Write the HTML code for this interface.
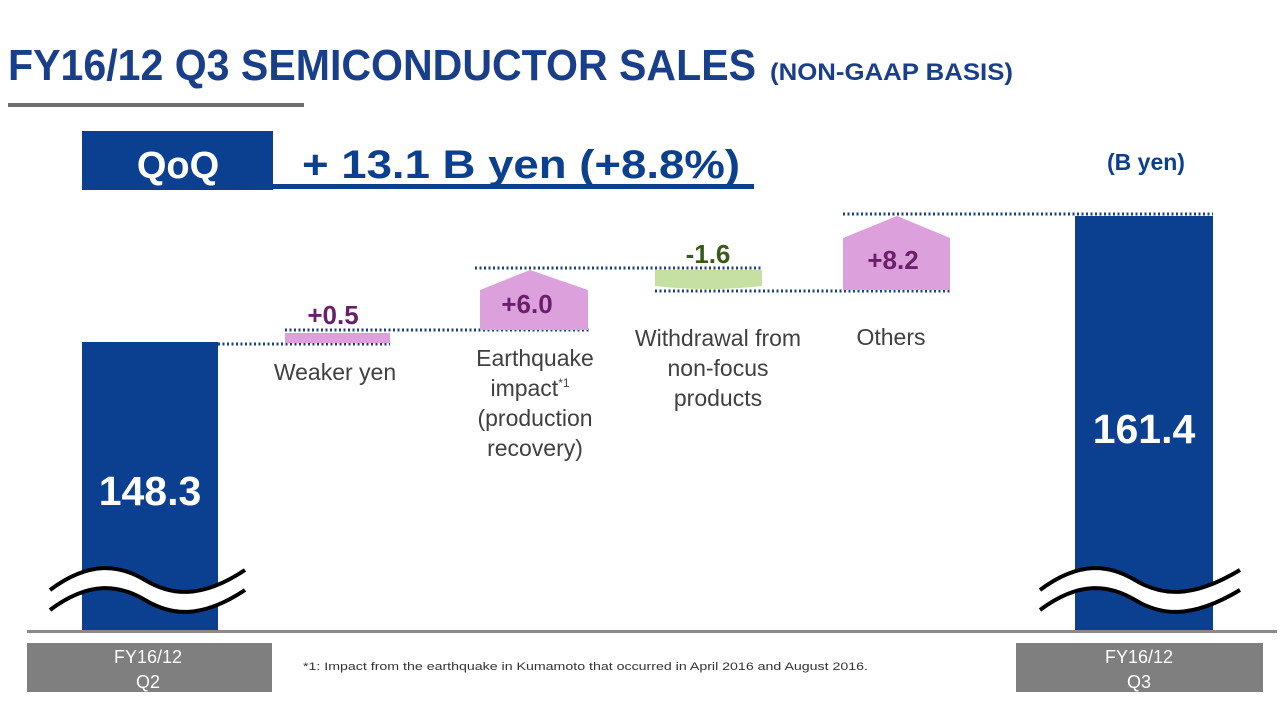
<!DOCTYPE html>
<html><head><meta charset="utf-8"><style>
html,body{margin:0;padding:0;background:#fff;width:1280px;height:721px;overflow:hidden}
svg{display:block}
text{font-family:"Liberation Sans",Arial,sans-serif}
</style></head><body>
<svg width="1280" height="721" viewBox="0 0 1280 721">
<text x="8" y="80" font-size="44" font-weight="bold" fill="#1a3f8a" textLength="748" lengthAdjust="spacingAndGlyphs">FY16/12 Q3 SEMICONDUCTOR SALES</text>
<text x="770" y="80" font-size="24" font-weight="bold" fill="#1a3f8a" textLength="243" lengthAdjust="spacingAndGlyphs">(NON-GAAP BASIS)</text>
<rect x="8" y="103" width="296" height="4" fill="#6e6e6e"/>
<rect x="82" y="131" width="191" height="59" fill="#0b3f8f"/>
<rect x="273" y="184" width="481" height="5" fill="#0b3f8f"/>
<text x="178" y="178" font-size="38" font-weight="bold" fill="#fff" text-anchor="middle">QoQ</text>
<text x="302" y="178" font-size="40" font-weight="bold" fill="#0b3f8f" textLength="438" lengthAdjust="spacingAndGlyphs">+ 13.1 B yen (+8.8%)</text>
<text x="1146" y="170" font-size="23" font-weight="bold" fill="#0b3f8f" text-anchor="middle">(B yen)</text>

<g stroke="#1a3f8a" stroke-width="3" stroke-dasharray="2 2.5" fill="none">
<line x1="218" y1="344" x2="390" y2="344"/>
<line x1="285" y1="330" x2="590" y2="330"/>
<line x1="475" y1="268" x2="762" y2="268"/>
<line x1="655" y1="291" x2="950" y2="291"/>
<line x1="843" y1="214" x2="1213" y2="214"/>
</g>
<rect x="285" y="333" width="105" height="10" fill="#dca0dc"/>
<polygon points="480,330 480,290 530,270 588,290 588,330" fill="#dca0dc"/>
<path d="M655 270 H762 V286 Q708 292 655 286 Z" fill="#c6e0a4"/>
<polygon points="843,290 843,238 897,216 950,238 950,290" fill="#dca0dc"/>

<g font-weight="bold" font-size="26" text-anchor="middle">
<text x="333" y="324" fill="#6a1f6a">+0.5</text>
<text x="527" y="313" fill="#6a1f6a">+6.0</text>
<text x="708" y="263" fill="#3a5a1a">-1.6</text>
<text x="893" y="269" fill="#6a1f6a">+8.2</text>
</g>
<g font-size="23" fill="#404040" text-anchor="middle">
<text x="335" y="380">Weaker yen</text>
<text x="535" y="366">Earthquake</text>
<text x="530" y="396">impact<tspan font-size="12" dy="-9">*1</tspan></text>
<text x="535" y="426">(production</text>
<text x="535" y="456">recovery)</text>
<text x="718" y="346">Withdrawal from</text>
<text x="718" y="376">non-focus</text>
<text x="718" y="406">products</text>
<text x="891" y="345">Others</text>
</g>

<rect x="82" y="342" width="136" height="290" fill="#0b3f8f"/>
<rect x="1075" y="216" width="138" height="416" fill="#0b3f8f"/>
<text x="150" y="505" font-size="41" font-weight="bold" fill="#fff" text-anchor="middle">148.3</text>
<text x="1144" y="443" font-size="41" font-weight="bold" fill="#fff" text-anchor="middle">161.4</text>

<g>
<path d="M50 590 C90 560,120 565,145 580 C170 595,200 600,245 570 L245 590 C200 620,170 615,145 600 C120 585,90 580,50 610 Z" fill="#fff"/>
<path d="M50 590 C90 560,120 565,145 580 C170 595,200 600,245 570 M50 610 C90 580,120 585,145 600 C170 615,200 620,245 590" stroke="#000" stroke-width="4" fill="none"/>
<path d="M1040 590 C1080 560,1110 565,1135 580 C1160 595,1190 600,1240 570 L1240 590 C1190 620,1160 615,1135 600 C1110 585,1080 580,1040 610 Z" fill="#fff"/>
<path d="M1040 590 C1080 560,1110 565,1135 580 C1160 595,1190 600,1240 570 M1040 610 C1080 580,1110 585,1135 600 C1160 615,1190 620,1240 590" stroke="#000" stroke-width="4" fill="none"/>
</g>

<rect x="27" y="630" width="1250" height="3" fill="#8a8a8a"/>
<rect x="27" y="643" width="245" height="49" fill="#7f7f7f"/>
<rect x="1016" y="643" width="247" height="49" fill="#7f7f7f"/>
<g font-size="18" fill="#fff" text-anchor="middle">
<text x="148" y="663">FY16/12</text>
<text x="148" y="688">Q2</text>
<text x="1139" y="663">FY16/12</text>
<text x="1139" y="688">Q3</text>
</g>
<text x="303" y="670" font-size="11" fill="#333" textLength="565" lengthAdjust="spacingAndGlyphs">*1: Impact from the earthquake in Kumamoto that occurred in April 2016 and August 2016.</text>
</svg>
</body></html>
